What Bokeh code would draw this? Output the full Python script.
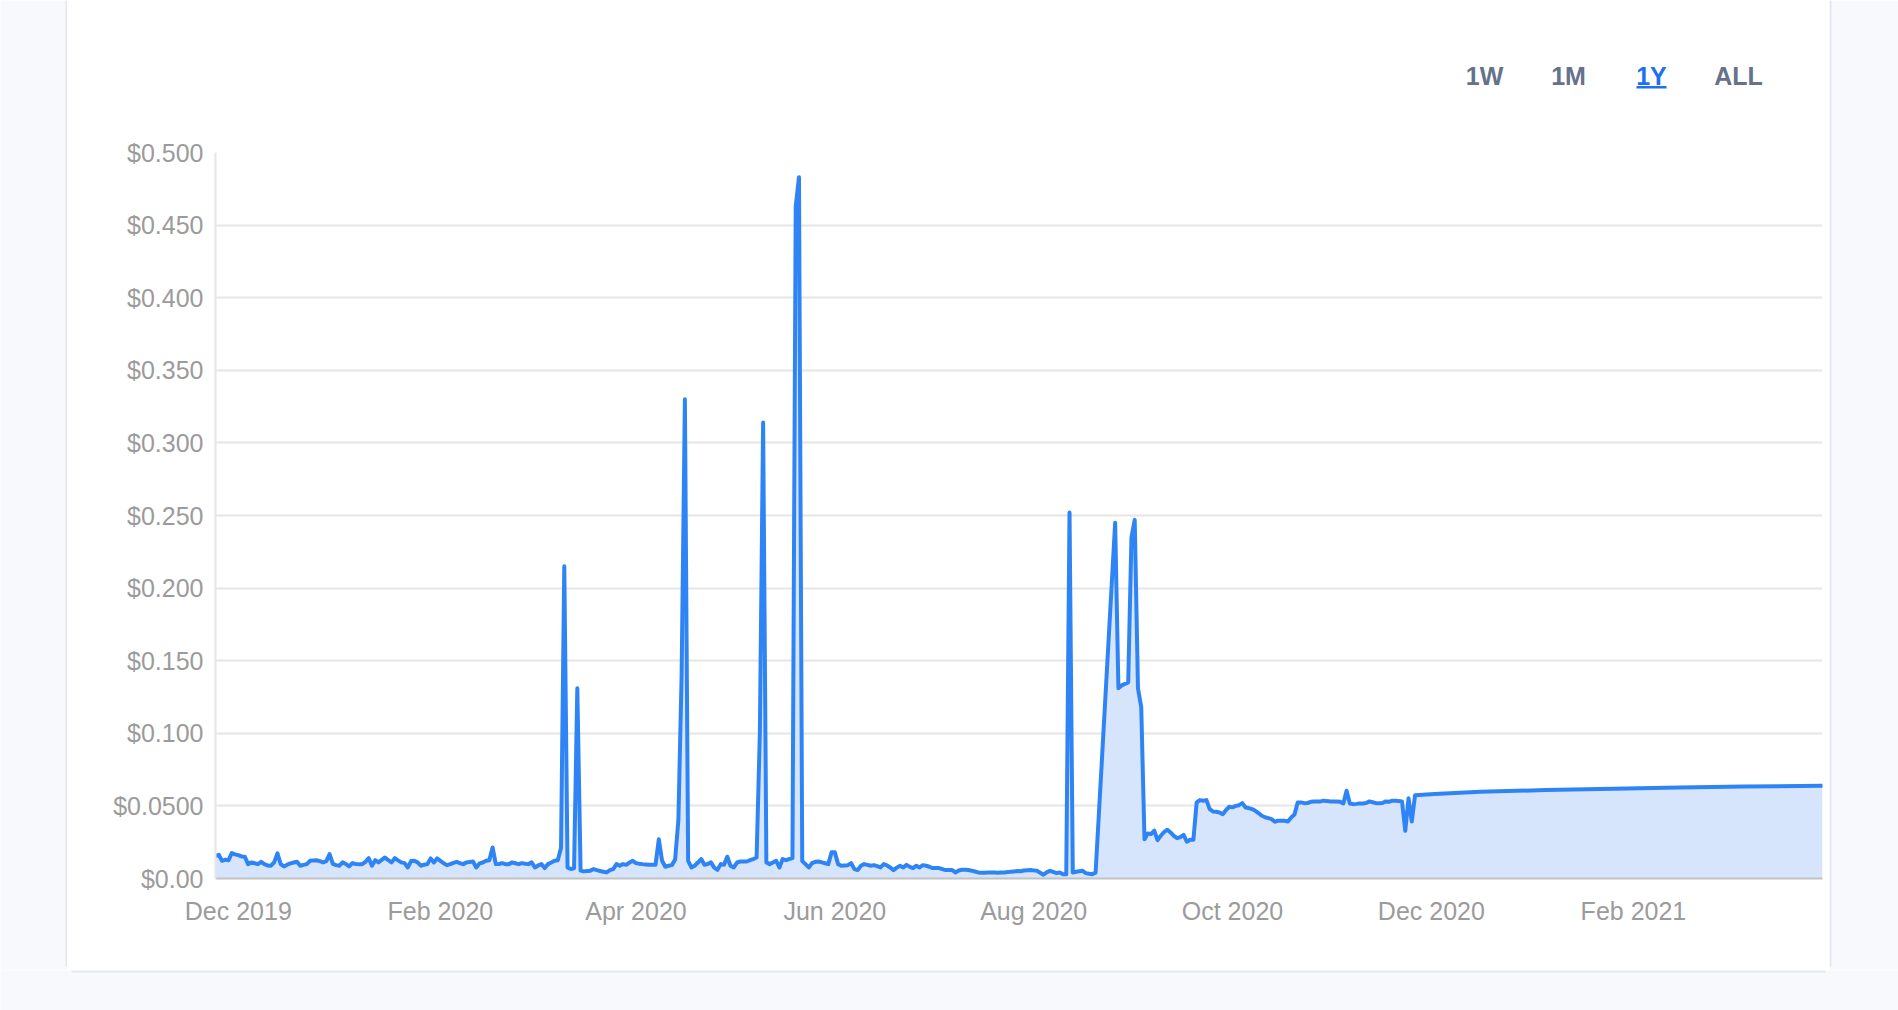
import pandas as pd
from bokeh.plotting import figure
from bokeh.layouts import row, column
from bokeh.models import Range1d, FixedTicker, ColumnDataSource
from bokeh.core.properties import value
from bokeh.embed import file_html
from bokeh.resources import INLINE

# ---------------- data ----------------
seg1_start = "2019-11-24"   # daily values
seg1_values = [
    0.0156, 0.0163, 0.0122, 0.0130, 0.0126, 0.0175, 0.0166, 0.0161, 0.0152, 0.0150,
    0.0099, 0.0111, 0.0105, 0.0099, 0.0115, 0.0099, 0.0090, 0.0088, 0.0111, 0.0173,
    0.0099, 0.0083, 0.0095, 0.0104, 0.0110, 0.0115, 0.0088, 0.0094, 0.0099, 0.0122,
    0.0124, 0.0126, 0.0120, 0.0111, 0.0120, 0.0168, 0.0100, 0.0092, 0.0088, 0.0111,
    0.0100, 0.0083, 0.0106, 0.0100, 0.0099, 0.0099, 0.0115, 0.0140, 0.0088, 0.0126,
    0.0111, 0.0128, 0.0145, 0.0126, 0.0111, 0.0140, 0.0125, 0.0111, 0.0106, 0.0076,
    0.0120, 0.0122, 0.0111, 0.0088, 0.0095, 0.0099, 0.0138, 0.0111, 0.0138, 0.0122,
    0.0105, 0.0092, 0.0099, 0.0108, 0.0115, 0.0105, 0.0099, 0.0111, 0.0114, 0.0117,
    0.0076, 0.0104, 0.0110, 0.0122, 0.0126, 0.0214, 0.0099, 0.0100, 0.0106, 0.0099,
    0.0099, 0.0111, 0.0105, 0.0099, 0.0106, 0.0102, 0.0099, 0.0111, 0.0076, 0.0090,
    0.0099, 0.0072, 0.0099, 0.0110, 0.0122, 0.0126, 0.0210, 0.2150, 0.0076, 0.0065,
    0.0070, 0.1310, 0.0054, 0.0049, 0.0052, 0.0054, 0.0065, 0.0058, 0.0052, 0.0047,
    0.0042, 0.0058, 0.0065, 0.0099, 0.0088, 0.0099, 0.0094, 0.0110, 0.0122, 0.0106,
    0.0102, 0.0099, 0.0097, 0.0094, 0.0094, 0.0094, 0.0270, 0.0122, 0.0081, 0.0088,
    0.0092, 0.0130, 0.0400, 0.1400, 0.3300, 0.0122, 0.0076, 0.0088, 0.0110, 0.0134,
    0.0094, 0.0100, 0.0111, 0.0075, 0.0060, 0.0099, 0.0094, 0.0150, 0.0088, 0.0076,
    0.0110, 0.0117, 0.0117, 0.0117, 0.0126, 0.0134, 0.0145, 0.1000, 0.3140, 0.0111,
    0.0099, 0.0110, 0.0122, 0.0076, 0.0134, 0.0126, 0.0134, 0.0140, 0.4630, 0.4830,
    0.0120, 0.0099, 0.0076, 0.0106, 0.0115, 0.0117, 0.0111, 0.0105, 0.0099, 0.0180,
    0.0180, 0.0099, 0.0088, 0.0090, 0.0092, 0.0106, 0.0065, 0.0058, 0.0088, 0.0099,
    0.0094, 0.0088, 0.0092, 0.0085, 0.0076, 0.0099, 0.0090, 0.0076, 0.0058, 0.0075,
    0.0088, 0.0076, 0.0094, 0.0080, 0.0072, 0.0088, 0.0076, 0.0092, 0.0088, 0.0081,
    0.0072, 0.0072, 0.0072, 0.0065, 0.0058, 0.0058, 0.0058, 0.0042, 0.0055, 0.0060,
    0.0060, 0.0058, 0.0054, 0.0048, 0.0042, 0.0040, 0.0040, 0.0041, 0.0042, 0.0041,
    0.0040, 0.0041, 0.0042, 0.0044, 0.0047, 0.0049, 0.0051, 0.0050, 0.0055, 0.0057,
    0.0058, 0.0056, 0.0053, 0.0040, 0.0026, 0.0042, 0.0053, 0.0045, 0.0037, 0.0042,
    0.0030, 0.0030, 0.2520, 0.0041, 0.0046, 0.0050, 0.0053, 0.0037, 0.0033, 0.0030,
    0.0040,
]
seg2_start = "2020-08-26"   # daily values after a gap in the data
seg2_values = [
    0.2450, 0.1310, 0.1330, 0.1340, 0.1350, 0.2350, 0.2470, 0.1310, 0.1180, 0.0270,
    0.0310, 0.0306, 0.0329, 0.0264, 0.0294, 0.0320, 0.0336, 0.0317, 0.0294, 0.0278,
    0.0285, 0.0301, 0.0253, 0.0267, 0.0267, 0.0524, 0.0540, 0.0535, 0.0540, 0.0478,
    0.0462, 0.0460, 0.0455, 0.0443, 0.0471, 0.0494, 0.0490, 0.0500, 0.0505, 0.0519,
    0.0489, 0.0485, 0.0478, 0.0466, 0.0450, 0.0432, 0.0422, 0.0416, 0.0409, 0.0391,
    0.0398, 0.0398, 0.0398, 0.0393, 0.0420, 0.0440, 0.0524, 0.0524, 0.0519, 0.0520,
    0.0528, 0.0531, 0.0531, 0.0531, 0.0536, 0.0533, 0.0531, 0.0531, 0.0531, 0.0528,
    0.0517, 0.0604, 0.0517, 0.0512, 0.0514, 0.0517, 0.0517, 0.0520, 0.0531, 0.0525,
    0.0519, 0.0519, 0.0520, 0.0531, 0.0528, 0.0536, 0.0536, 0.0533, 0.0531, 0.0328,
    0.0553, 0.0393, 0.0574,
]
tail_dates = ["2020-12-02", "2020-12-16", "2021-01-05", "2021-01-26",
              "2021-02-15", "2021-03-07", "2021-03-31"]
tail_values = [0.0582, 0.0597, 0.0609, 0.0618, 0.0627, 0.0633, 0.0638]

y_ticks = [0.0, 0.05, 0.10, 0.15, 0.20, 0.25, 0.30, 0.35, 0.40, 0.45, 0.50]
y_tick_labels = ["$0.00", "$0.0500", "$0.100", "$0.150", "$0.200", "$0.250",
                 "$0.300", "$0.350", "$0.400", "$0.450", "$0.500"]
x_tick_dates = ["2019-12-01", "2020-02-01", "2020-04-01", "2020-06-01",
                "2020-08-01", "2020-10-01", "2020-12-01", "2021-02-01"]
x_tick_labels = ["Dec 2019", "Feb 2020", "Apr 2020", "Jun 2020",
                 "Aug 2020", "Oct 2020", "Dec 2020", "Feb 2021"]
range_buttons = ["1W", "1M", "1Y", "ALL"]
active_button = "1Y"

# ---------------- colours / layout ----------------
PAGE_BG = "#f8f9fd"
CARD_BORDER = "#e4e7ef"
LINE_BLUE = "#2f84f5"
AREA_BLUE = "#d6e5fb"
TICK_GREY = "#9b9b9b"
BTN_GREY = "#65728a"
BTN_BLUE = "#1f6ff1"
FONT = "Liberation Sans"

PAGE_W, PAGE_H = 1898, 1010
CARD_L, CARD_R, CARD_B = 67, 1829, 970
FRAME_L, FRAME_R = 215, 1822
BTN_H = 120
CARD_W = CARD_R - CARD_L


def blank(width, height, xr, yr, bg):
    f = figure(width=width, height=height, output_backend="svg", toolbar_location=None,
               x_range=Range1d(*xr), y_range=Range1d(*yr),
               x_axis_location=None, y_axis_location=None, min_border=0)
    f.background_fill_color = bg
    f.border_fill_color = bg
    f.outline_line_color = None
    f.grid.visible = False
    return f


# ---------------- main chart ----------------
dates = (list(pd.date_range(seg1_start, periods=len(seg1_values), freq="D"))
         + list(pd.date_range(seg2_start, periods=len(seg2_values), freq="D"))
         + [pd.Timestamp(d) for d in tail_dates])
values = seg1_values + seg2_values + tail_values
src = ColumnDataSource(dict(x=dates, y=values))


def ms(d):
    return pd.Timestamp(d).value / 1e6


xs_ms, xe_ms = ms(dates[0]), ms(dates[-1])

p = figure(width=CARD_W, height=CARD_B - BTN_H, output_backend="svg", toolbar_location=None,
           x_axis_type="datetime", x_range=Range1d(xs_ms, xe_ms),
           y_range=Range1d(y_ticks[0], y_ticks[-1]),
           min_border_left=FRAME_L - CARD_L, min_border_right=CARD_R - FRAME_R,
           min_border_top=32, min_border_bottom=92)
p.background_fill_color = "white"
p.border_fill_color = "white"
p.outline_line_color = None

p.varea(x="x", y1=0, y2="y", source=src, fill_color=AREA_BLUE, fill_alpha=1.0)
p.line(x="x", y="y", source=src, line_color=LINE_BLUE, line_width=4,
       line_join="round", line_cap="round")

p.yaxis.ticker = FixedTicker(ticks=y_ticks)
p.yaxis.major_label_overrides = {t: l for t, l in zip(y_ticks, y_tick_labels)}
p.xaxis.ticker = FixedTicker(ticks=[ms(d) for d in x_tick_dates])
p.xaxis.major_label_overrides = {ms(d): l for d, l in zip(x_tick_dates, x_tick_labels)}
for ax in (p.xaxis[0], p.yaxis[0]):
    ax.major_tick_line_color = None
    ax.minor_tick_line_color = None
    ax.major_tick_out = 0
    ax.major_tick_in = 0
    ax.minor_tick_out = 0
    ax.minor_tick_in = 0
    ax.major_label_text_font = FONT
    ax.major_label_text_font_size = "25px"
    ax.major_label_text_color = TICK_GREY
    ax.axis_line_width = 2
p.yaxis.axis_line_color = "#e6e6e6"
p.yaxis.major_label_standoff = 12
p.xaxis.axis_line_color = "#c2c2c2"
p.xaxis.major_label_standoff = 18

p.xgrid.grid_line_color = None
p.ygrid.grid_line_color = "#e6e6e6"
p.ygrid.grid_line_width = 2

# ---------------- range buttons (top of card, page-pixel space) ----------------
# the column aligns this figure's frame with the chart frame (page x 215..1822)
btns = blank(CARD_W, BTN_H, (FRAME_L, FRAME_R), (BTN_H, 0), "white")
btn_x = [1484, 1568, 1651, 1738]
btn_src = ColumnDataSource(dict(
    x=btn_x, y=[75] * len(range_buttons), text=range_buttons,
    color=[BTN_BLUE if b == active_button else BTN_GREY for b in range_buttons]))
btns.text(x="x", y="y", text="text", source=btn_src, text_color="color",
          text_align="center", text_baseline="middle", text_font=value(FONT),
          text_font_size="25px", text_font_style="bold")
ai = range_buttons.index(active_button)
btns.quad(left=[btn_x[ai] - 15], right=[btn_x[ai] + 15], top=[85.5], bottom=[88],
          fill_color=BTN_BLUE, line_color=None)

# ---------------- page background strips with card border ----------------
left = blank(CARD_L, CARD_B, (0, CARD_L), (CARD_B, 0), PAGE_BG)
left.quad(left=[CARD_L - 2], right=[CARD_L], top=[0], bottom=[CARD_B - 4],
          fill_color=CARD_BORDER, line_color=None)
right = blank(PAGE_W - CARD_R, CARD_B, (CARD_R, PAGE_W), (CARD_B, 0), PAGE_BG)
right.quad(left=[CARD_R], right=[CARD_R + 2], top=[0], bottom=[CARD_B - 4],
           fill_color=CARD_BORDER, line_color=None)
bottom = blank(PAGE_W, PAGE_H - CARD_B, (0, PAGE_W), (PAGE_H, CARD_B), PAGE_BG)
bottom.quad(left=[CARD_L + 4], right=[CARD_R - 4], top=[CARD_B], bottom=[CARD_B + 2],
            fill_color=CARD_BORDER, line_color=None)

layout = column(row(left, column(btns, p, spacing=0), right, spacing=0), bottom, spacing=0)

open("out.html", "w").write(file_html(layout, INLINE))
